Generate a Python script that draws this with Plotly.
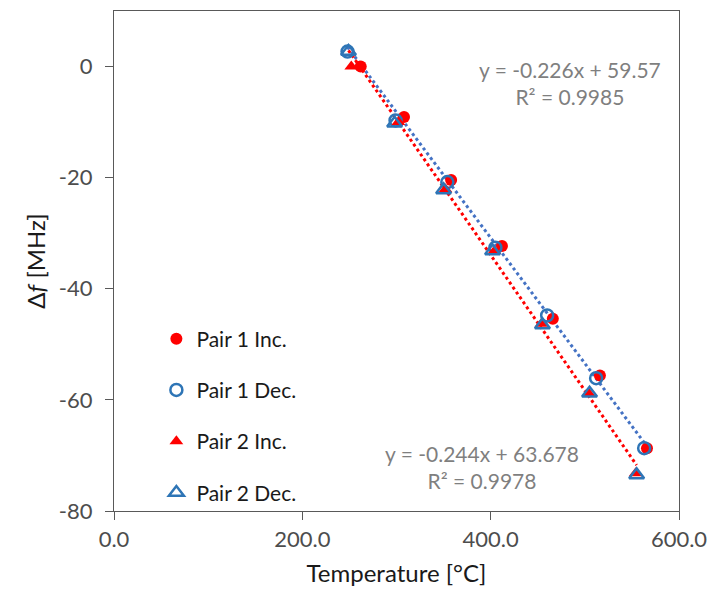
import numpy as np
import plotly.graph_objects as go

# Measured frequency shift vs temperature for two resonator pairs
p1_inc_t = [262, 308, 358, 412, 466, 516, 566]
p1_inc_df = [0.0, -9.1, -20.4, -32.3, -45.4, -55.6, -68.7]

p1_dec_t = [248, 299, 354, 405, 460, 512, 563]
p1_dec_df = [2.7, -9.7, -20.8, -32.6, -44.8, -56.1, -68.7]

p2_inc_t = [252, 302, 352, 404, 454, 504, 554]
p2_inc_df = [0.0, -10.0, -22.1, -33.2, -46.3, -58.8, -73.2]

p2_dec_t = [249, 298, 350, 402, 455, 505, 555]
p2_dec_df = [2.7, -10.2, -22.2, -33.2, -46.5, -58.8, -73.5]

# Linear trendline coefficients (slope, intercept, R^2)
fit1 = (-0.226, 59.57, 0.9985)
fit2 = (-0.244, 63.678, 0.9978)

x_ticks = [0, 200, 400, 600]
y_ticks = [-80, -60, -40, -20, 0]

RED = "#FF0000"
BLUE = "#2E75B6"
FONT = "Lato"
TICK_COLOR = "#4D4D4D"
LABEL_GRAY = "#7F7F7F"

fig = go.Figure()

# trendlines drawn from the fitted equations over each pair's temperature span
t1 = np.array([min(p1_inc_t + p1_dec_t), max(p1_inc_t + p1_dec_t)], dtype=float)
t2 = np.array([min(p2_inc_t + p2_dec_t), max(p2_inc_t + p2_dec_t)], dtype=float)
fig.add_trace(go.Scatter(x=t1, y=fit1[0] * t1 + fit1[1], mode="lines",
                         line=dict(color="#4472C4", width=3, dash="dot"),
                         showlegend=False, hoverinfo="skip"))
fig.add_trace(go.Scatter(x=t2, y=fit2[0] * t2 + fit2[1], mode="lines",
                         line=dict(color=RED, width=3, dash="dot"),
                         showlegend=False, hoverinfo="skip"))

series = [
    ("Pair 1 Inc.", p1_inc_t, p1_inc_df, dict(symbol="circle", size=12, color=RED)),
    ("Pair 1 Dec.", p1_dec_t, p1_dec_df, dict(symbol="circle-open", size=12, color=BLUE,
                                             line=dict(width=2.5, color=BLUE))),
    ("Pair 2 Inc.", p2_inc_t, p2_inc_df, dict(symbol="triangle-up", size=12, color=RED)),
    ("Pair 2 Dec.", p2_dec_t, p2_dec_df, dict(symbol="triangle-up-open", size=13, color=BLUE,
                                             line=dict(width=2.5, color=BLUE))),
]
for i, (name, t, df, mk) in enumerate(series):
    fig.add_trace(go.Scatter(x=t, y=df, mode="markers", name=name, marker=mk,
                             legendgroup=f"g{i}"))


def eq_text(fit):
    return f"y = {fit[0]}x + {fit[1]}<br>R² = {fit[2]}"


# trendline equation labels, placed in data coordinates
fig.add_annotation(x=484, y=-2.9, text=eq_text(fit1), showarrow=False,
                   font=dict(family=FONT, size=21, color=LABEL_GRAY), align="center")
fig.add_annotation(x=391, y=-72.1, text=eq_text(fit2), showarrow=False,
                   font=dict(family=FONT, size=21, color=LABEL_GRAY), align="center")

axis_common = dict(showgrid=False, zeroline=False, showline=True, linecolor="#595959",
                   linewidth=1.3, mirror=True, ticks="outside", ticklen=8,
                   tickcolor="#595959", tickwidth=1.3)

fig.update_xaxes(range=[0, 600], tickvals=x_ticks,
                 ticktext=[f"{v:.1f}" for v in x_ticks],
                 tickfont=dict(family=FONT, size=22, color=TICK_COLOR),
                 title=dict(text="Temperature [°C]",
                            font=dict(family=FONT, size=24, color="#1a1a1a"),
                            standoff=14),
                 **axis_common)
fig.update_yaxes(range=[-80, 10], tickvals=y_ticks,
                 ticktext=[str(v) for v in y_ticks],
                 ticklabelstandoff=8,
                 tickfont=dict(family=FONT, size=22, color=TICK_COLOR),
                 title=dict(text="Δ<i>f</i> [MHz]",
                            font=dict(family=FONT, size=24, color="#1a1a1a"),
                            standoff=6),
                 **axis_common)

fig.update_layout(
    width=717, height=606,
    margin=dict(l=114, r=34, t=10, b=95),
    plot_bgcolor="white", paper_bgcolor="white",
    legend=dict(x=0.075, y=0.385, xanchor="left", yanchor="top",
                font=dict(family=FONT, size=21, color="#1a1a1a"),
                bgcolor="rgba(0,0,0,0)", tracegroupgap=21, itemwidth=30),
)

fig.write_html("out.html")
